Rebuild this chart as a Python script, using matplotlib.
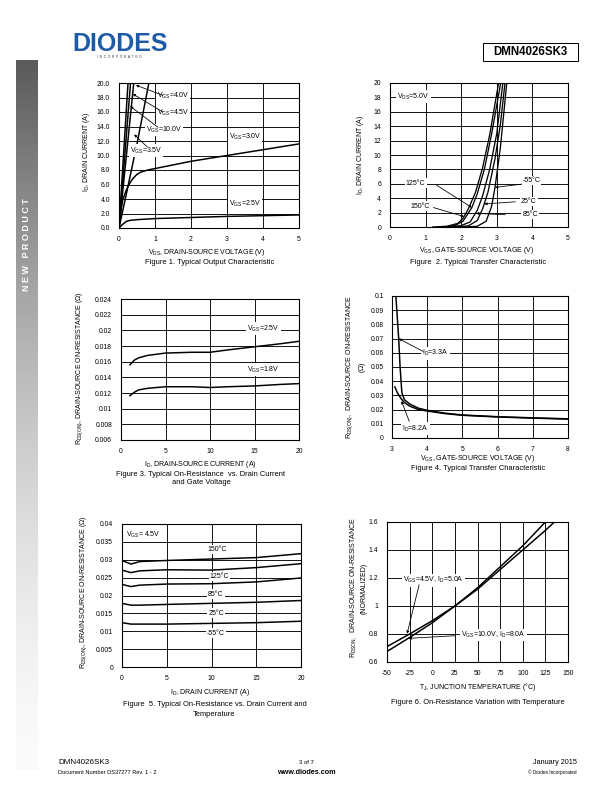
import numpy as np
import matplotlib
matplotlib.use("Agg")
import matplotlib.pyplot as plt
from matplotlib.patches import Rectangle

plt.rcParams['font.family'] = ['Liberation Sans', 'DejaVu Sans']
plt.rcParams['mathtext.fontset'] = 'custom'
plt.rcParams['mathtext.rm'] = 'Liberation Sans'
plt.rcParams['mathtext.it'] = 'Liberation Sans:italic'

W, H = 612, 792
TICK_FS = 6.7
LAB_FS = 7.0
CAP_FS = 7.5

# ---- Fig 1: output characteristic (VDS, ID) ----
f1_vds_25 = [0, 0.1, 0.2, 0.3, 0.5, 1, 2, 3, 4, 5]
f1_id_25 = [0, 0.5, 0.9, 1.05, 1.15, 1.3, 1.45, 1.6, 1.7, 1.8]
f1_vds_30 = [0, 0.05, 0.1, 0.2, 0.3, 0.4, 0.5, 0.6, 0.8, 1.0, 1.5, 2, 3, 4, 5]
f1_id_30 = [0, 2.2, 3.8, 5.2, 6.2, 6.9, 7.4, 7.7, 8.0, 8.2, 8.7, 9.2, 10.0, 10.8, 11.6]
f1_vds_35 = [0, 0.2, 0.5, 0.83]
f1_id_35 = [0, 4.6, 11.6, 20]
f1_vds_40 = [0, 0.41]
f1_id_40 = [0, 20]
f1_vds_45 = [0, 0.32]
f1_id_45 = [0, 20]
f1_vds_100 = [0, 0.25]
f1_id_100 = [0, 20]

# ---- Fig 2: transfer characteristic (VGS, ID) ----
f2_vgs_150 = [1.2, 1.6, 1.9, 2.05, 2.2, 2.4, 2.6, 2.8, 3.05]
f2_id_150 = [0, 0.1, 0.5, 1.2, 2.5, 4.8, 8.2, 12.8, 20]
f2_vgs_125 = [1.4, 1.8, 2.05, 2.3, 2.45, 2.65, 2.85, 3.11]
f2_id_125 = [0, 0.15, 0.8, 2.7, 4.6, 8.0, 12.8, 20]
f2_vgs_85 = [1.6, 2.0, 2.25, 2.45, 2.6, 2.8, 3.0, 3.17]
f2_id_85 = [0, 0.2, 0.7, 2.3, 4.3, 8.0, 13, 20]
f2_vgs_25 = [1.8, 2.2, 2.45, 2.6, 2.75, 2.95, 3.1, 3.23]
f2_id_25 = [0, 0.15, 0.9, 2.5, 4.8, 9.5, 14.2, 20]
f2_vgs_m55 = [2.1, 2.45, 2.7, 2.85, 2.95, 3.1, 3.28]
f2_id_m55 = [0, 0.1, 0.8, 2.8, 5.5, 11, 20]

# ---- Fig 3: RDS(on) vs ID and VGS ----
f3_id = [1, 1.5, 2, 3, 5, 8, 10, 12, 15, 18, 20]
f3_r_25 = [0.0156, 0.0162, 0.0165, 0.0168, 0.0171, 0.0172, 0.0172, 0.0175, 0.0179, 0.0183, 0.0186]
f3_r_18 = [0.01165, 0.0121, 0.0124, 0.0126, 0.0128, 0.0128, 0.0127, 0.0128, 0.0129, 0.0131, 0.0132]

# ---- Fig 4: RDS(on) vs VGS ----
f4_vgs_33 = [3.11, 3.15, 3.19, 3.23, 3.28, 3.35, 3.5, 3.75, 4.0, 4.5, 5, 6, 7, 8]
f4_r_33 = [0.1, 0.085, 0.07, 0.05, 0.032, 0.027, 0.024, 0.021, 0.0195, 0.0175, 0.0162, 0.015, 0.0142, 0.0135]
f4_vgs_82 = [3.08, 3.15, 3.25, 3.35, 3.5, 3.75, 4.0, 4.5, 5, 6, 7, 8]
f4_r_82 = [0.036, 0.032, 0.028, 0.025, 0.0225, 0.02, 0.019, 0.0172, 0.016, 0.0148, 0.014, 0.0133]

# ---- Fig 5: RDS(on) vs ID and temperature ----
f5_id = [0, 1, 2, 5, 10, 15, 20]
f5_r_150 = [0.0298, 0.0288, 0.0295, 0.0298, 0.0302, 0.0306, 0.0317]
f5_r_125 = [0.0271, 0.0264, 0.0269, 0.0272, 0.0271, 0.0278, 0.0289]
f5_r_85 = [0.0231, 0.0225, 0.0229, 0.0232, 0.0233, 0.0238, 0.0249]
f5_r_25 = [0.0178, 0.0173, 0.0173, 0.0175, 0.0178, 0.0181, 0.0186]
f5_r_m55 = [0.0124, 0.012, 0.012, 0.012, 0.0122, 0.0124, 0.0128]

# ---- Fig 6: normalized RDS(on) vs TJ ----
f6_tj_45 = [-50, -25, 0, 25, 50, 75, 100, 125, 135]
f6_r_45 = [0.71, 0.80, 0.895, 1.0, 1.12, 1.26, 1.40, 1.54, 1.6]
f6_tj_10 = [-50, -25, 0, 25, 50, 75, 100, 125]
f6_r_10 = [0.675, 0.775, 0.88, 1.0, 1.13, 1.28, 1.43, 1.6]

fig = plt.figure(figsize=(W / 72, H / 72), dpi=72)


def pax(l, t, r, b):
    return fig.add_axes([l / W, 1 - b / H, (r - l) / W, (b - t) / H])


def ftext(x, y, s, **kw):
    kw.setdefault('ha', 'center')
    kw.setdefault('va', 'center')
    return fig.text(x / W, 1 - y / H, s, **kw)


def setup(ax, xlim, ylim, xticks, yticks, yfmt, ypad=9):
    ax.set_xlim(*xlim)
    ax.set_ylim(*ylim)
    ax.set_xticks(xticks)
    ax.set_yticks(yticks)
    ax.set_xticklabels([f"{v:g}" for v in xticks])
    ax.set_yticklabels([yfmt(v) for v in yticks])
    ax.tick_params(length=0, labelsize=TICK_FS)
    ax.tick_params(axis='y', pad=ypad)
    ax.tick_params(axis='x', pad=8)
    ax.grid(True, color='black', lw=0.9)
    ax.set_axisbelow(True)
    for s in ax.spines.values():
        s.set_linewidth(1.1)


def lbl(ax, x, y, s, **kw):
    kw.setdefault('ha', 'center')
    ax.text(x, y, s, fontsize=LAB_FS, va='center',
            bbox=dict(facecolor='white', edgecolor='none', pad=1.2), zorder=5, **kw)


def arrow(ax, tip, start):
    ax.annotate('', xy=tip, xytext=start,
                arrowprops=dict(arrowstyle='-|>', color='black', lw=0.8,
                                mutation_scale=5, shrinkA=0, shrinkB=0), zorder=6)


LW = 1.5
gfmt = lambda v: f"{v:g}"

# ---------------- Figure 1 ----------------
ax1 = pax(119, 83, 299, 228)
setup(ax1, (0, 5), (0, 20), range(0, 6), np.arange(0, 21, 2), lambda v: f"{v:.1f}")
for x, y in [(f1_vds_25, f1_id_25), (f1_vds_30, f1_id_30), (f1_vds_35, f1_id_35),
             (f1_vds_40, f1_id_40), (f1_vds_45, f1_id_45), (f1_vds_100, f1_id_100)]:
    ax1.plot(x, y, color='black', lw=LW)
lbl(ax1, 1.5, 18.2, r"V$_{\mathrm{GS}}$=4.0V")
lbl(ax1, 1.5, 15.9, r"V$_{\mathrm{GS}}$=4.5V")
lbl(ax1, 1.25, 13.5, r"V$_{\mathrm{GS}}$=10.0V")
lbl(ax1, 0.75, 10.7, r"V$_{\mathrm{GS}}$=3.5V")
lbl(ax1, 3.5, 12.6, r"V$_{\mathrm{GS}}$=3.0V")
lbl(ax1, 3.5, 3.3, r"V$_{\mathrm{GS}}$=2.5V")
arrow(ax1, (0.47, 19.7), (1.22, 18.3))
arrow(ax1, (0.38, 18.5), (1.22, 16.0))
arrow(ax1, (0.31, 16.8), (1.08, 13.9))
arrow(ax1, (0.42, 12.9), (0.78, 11.2))
ftext(207, 252, r"V$_{\mathrm{DS}}$, DRAIN-SOURCE VOLTAGE (V)", fontsize=LAB_FS)
ftext(87, 152, r"I$_{\mathrm{D}}$, DRAIN CURRENT (A)", fontsize=LAB_FS, rotation=90)
ftext(210, 263, "Figure 1. Typical Output Characteristic", fontsize=CAP_FS)

# ---------------- Figure 2 ----------------
ax2 = pax(390, 83, 568, 227)
setup(ax2, (0, 5), (0, 20), range(0, 6), np.arange(0, 21, 2), gfmt)
for x, y in [(f2_vgs_150, f2_id_150), (f2_vgs_125, f2_id_125), (f2_vgs_85, f2_id_85),
             (f2_vgs_25, f2_id_25), (f2_vgs_m55, f2_id_m55)]:
    ax2.plot(x, y, color='black', lw=1.3)
lbl(ax2, 0.2, 18.1, r"V$_{\mathrm{DS}}$=5.0V", ha='left')
lbl(ax2, 0.72, 6.1, "125°C")
lbl(ax2, 0.85, 2.9, "150°C")
lbl(ax2, 3.97, 6.5, "-55°C")
lbl(ax2, 3.9, 3.5, "25°C")
lbl(ax2, 3.94, 1.7, "85°C")
arrow(ax2, (2.3, 2.7), (1.31, 5.8))
arrow(ax2, (2.08, 1.45), (1.22, 2.7))
arrow(ax2, (2.95, 5.5), (3.7, 5.95))
arrow(ax2, (2.65, 3.2), (3.52, 3.5))
arrow(ax2, (2.42, 1.9), (3.24, 1.7))
ftext(477, 250, r"V$_{\mathrm{GS}}$, GATE-SOURCE VOLTAGE (V)", fontsize=LAB_FS)
ftext(361, 155, r"I$_{\mathrm{D}}$, DRAIN CURRENT (A)", fontsize=LAB_FS, rotation=90)
ftext(478, 263, "Figure  2. Typical Transfer Characteristic", fontsize=CAP_FS)

# ---------------- Figure 3 ----------------
ax3 = pax(121, 299, 299, 440)
setup(ax3, (0, 20), (0.006, 0.024), range(0, 21, 5), np.arange(0.006, 0.0241, 0.002), gfmt)
ax3.plot(f3_id, f3_r_25, color='black', lw=LW)
ax3.plot(f3_id, f3_r_18, color='black', lw=LW)
lbl(ax3, 16.0, 0.0202, r"V$_{\mathrm{GS}}$=2.5V")
lbl(ax3, 16.0, 0.0150, r"V$_{\mathrm{GS}}$=1.8V")
ftext(200, 464, r"I$_{\mathrm{D}}$, DRAIN-SOURCE CURRENT (A)", fontsize=LAB_FS)
ftext(80, 368, r"R$_{\mathrm{DS(ON)}}$, DRAIN-SOURCE ON-RESISTANCE ($\Omega$)",
      fontsize=LAB_FS, rotation=90)
ftext(200, 474, "Figure 3. Typical On-Resistance  vs. Drain Current", fontsize=CAP_FS)
ftext(201, 483, "and Gate Voltage", fontsize=CAP_FS)

# ---------------- Figure 4 ----------------
ax4 = pax(392, 296, 568, 438)
setup(ax4, (3, 8), (0, 0.1), range(3, 9), np.arange(0, 0.101, 0.01), gfmt, ypad=8)
ax4.plot(f4_vgs_33, f4_r_33, color='black', lw=LW)
ax4.plot(f4_vgs_82, f4_r_82, color='black', lw=LW)
lbl(ax4, 4.23, 0.0597, r"I$_{\mathrm{D}}$=3.3A")
lbl(ax4, 3.66, 0.0066, r"I$_{\mathrm{D}}$=8.2A")
arrow(ax4, (3.19, 0.070), (3.88, 0.061))
arrow(ax4, (3.27, 0.026), (3.49, 0.0117))
ftext(478, 458, r"V$_{\mathrm{GS}}$, GATE-SOURCE VOLTAGE (V)", fontsize=LAB_FS)
ftext(356, 367, "R$_{\\mathrm{DS(ON)}}$,  DRAIN-SOURCE ON-RESISTANCE\n($\\Omega$)",
      fontsize=LAB_FS, rotation=90, linespacing=1.25)
ftext(478, 469, "Figure 4. Typical Transfer Characteristic", fontsize=CAP_FS)

# ---------------- Figure 5 ----------------
ax5 = pax(122, 524, 301, 667)
setup(ax5, (0, 20), (0, 0.04), range(0, 21, 5), np.arange(0, 0.0401, 0.005), gfmt)
for r in [f5_r_150, f5_r_125, f5_r_85, f5_r_25, f5_r_m55]:
    ax5.plot(f5_id, r, color='black', lw=LW)
lbl(ax5, 0.4, 0.0369, r"V$_{\mathrm{GS}}$= 4.5V", ha='left')
lbl(ax5, 10.6, 0.0329, "150°C")
lbl(ax5, 10.9, 0.0254, "125°C")
lbl(ax5, 10.5, 0.0204, "85°C")
lbl(ax5, 10.5, 0.0151, "25°C")
lbl(ax5, 10.5, 0.0095, "-55°C")
ftext(210, 692, r"I$_{\mathrm{D}}$, DRAIN CURRENT (A)", fontsize=LAB_FS)
ftext(84, 592, r"R$_{\mathrm{DS(ON)}}$, DRAIN-SOURCE ON-RESISTANCE ($\Omega$)",
      fontsize=LAB_FS, rotation=90)
ftext(215, 704, "Figure  5. Typical On-Resistance vs. Drain Current and", fontsize=CAP_FS)
ftext(214, 714, "Temperature", fontsize=CAP_FS)

# ---------------- Figure 6 ----------------
ax6 = pax(387, 522, 568, 662)
setup(ax6, (-50, 150), (0.6, 1.6), range(-50, 151, 25), np.arange(0.6, 1.61, 0.2), gfmt)
ax6.plot(f6_tj_45, f6_r_45, color='black', lw=LW)
ax6.plot(f6_tj_10, f6_r_10, color='black', lw=LW)
lbl(ax6, 1.0, 1.183, r"V$_{\mathrm{GS}}$=4.5V, I$_{\mathrm{D}}$=5.0A")
lbl(ax6, 67.6, 0.793, r"V$_{\mathrm{GS}}$=10.0V, I$_{\mathrm{D}}$=8.0A")
arrow(ax6, (-27.8, 0.802), (-14.5, 1.152))
arrow(ax6, (-26, 0.769), (26, 0.788))
ftext(478, 687, r"T$_{\mathrm{J}}$, JUNCTION TEMPERATURE (°C)", fontsize=LAB_FS)
ftext(358, 588, "R$_{\\mathrm{DSON,}}$  DRAIN-SOURCE ON-RESISTANCE\n(NORMALIZED)",
      fontsize=LAB_FS, rotation=90, linespacing=1.25)
ftext(478, 702, "Figure 6. On-Resistance Variation with Temperature", fontsize=CAP_FS)

# ---------------- page furniture ----------------
side = fig.add_axes([16 / W, 1 - 770 / H, 21 / W, 710 / H])
t = np.linspace(0, 1, 256)[:, None]
g = (90 + 160 * (1 - (1 - t) ** 1.6)) / 255
side.imshow(np.repeat(g, 2, axis=1), cmap='gray', vmin=0, vmax=1, aspect='auto')
side.axis('off')
ftext(26.5, 245, "N E W   P R O D U C T", fontsize=9, color='white', weight='bold',
      rotation=90)

ftext(72, 44, "DIODES", fontsize=25, weight='heavy', color='#1d5ba6', ha='left')
ftext(119, 57.5, "I  N  C  O  R  P  O  R  A  T  E  D", fontsize=3.2, color='#333333')
fig.patches.append(Rectangle((483 / W, 1 - 61 / H), 95 / W, 18 / H, transform=fig.transFigure,
                             facecolor='white', edgecolor='black', lw=1.0))
ftext(530.5, 52, "DMN4026SK3", fontsize=11.5, weight='bold')

ftext(58, 763, "DMN4026SK3", fontsize=8, ha='left')
ftext(58, 773, "Document Number DS37277 Rev. 1 - 2", fontsize=5.6, ha='left')
ftext(306, 762, "3 of 7", fontsize=6, ha='center')
ftext(306, 772, "www.diodes.com", fontsize=7.2, weight='bold', ha='center')
ftext(577, 763, "January 2015", fontsize=7.2, ha='right')
ftext(577, 772, "© Diodes Incorporated", fontsize=4.8, ha='right')

fig.savefig("out.png", dpi=72)
